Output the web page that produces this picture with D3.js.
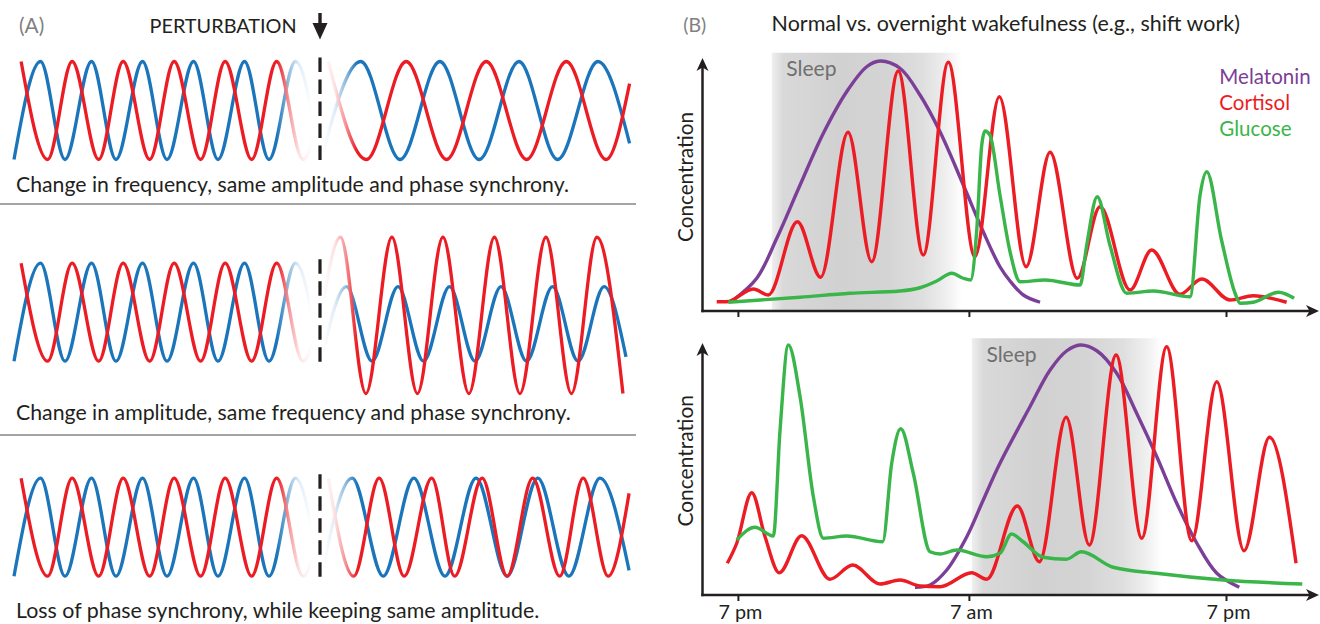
<!DOCTYPE html>
<html><head><meta charset="utf-8">
<script src="https://cdn.jsdelivr.net/npm/d3@7"></script>
<style>body{margin:0;background:#fff}svg{display:block}text{font-family:Lato,"Open Sans",sans-serif}</style>
</head><body>
<svg id="chart" width="1320" height="624"></svg>
<script>
// ---------------- Panel A: extrema of the oscillations, [time in baseline cycles, level] ----------------
const blueLeft  = [[0,-1],[0.52,1],[1,-1],[1.52,1],[2,-1],[2.52,1],[3,-1],[3.52,1],[4,-1],[4.52,1],[5,-1],[5.52,1],[6,-1]];
const redLeft   = [[0.14,1],[0.66,-1],[1.14,1],[1.66,-1],[2.14,1],[2.66,-1],[3.14,1],[3.66,-1],[4.14,1],[4.66,-1],[5.15,1],[5.67,-1],[6.15,1]];
const blueFreq  = [[6.02,-1],[6.80,1],[7.57,-1],[8.35,1],[9.12,-1],[9.90,1],[10.66,-1],[11.45,1],[12.07,-0.67]];
const redFreq   = [[6.16,1],[6.91,-1],[7.69,1],[8.48,-1],[9.26,1],[10.05,-1],[10.83,1],[11.61,-1],[12.07,0.55]];
const blueAmp   = [[6.02,-1],[6.52,0.52],[7.02,-1],[7.53,0.52],[8.03,-1],[8.54,0.52],[9.04,-1],[9.55,0.52],[10.05,-1],[10.56,0.52],[11.06,-1],[11.57,0.52],[12.0,-0.91]];
const redAmp    = [[6.0,-0.2],[6.40,1.53],[6.90,-1.66],[7.41,1.53],[7.91,-1.66],[8.41,1.53],[8.92,-1.66],[9.42,1.53],[9.92,-1.66],[10.43,1.53],[10.93,-1.66],[11.43,1.53],[11.94,-1.66]];
const bluePhase = [[6.02,-1],[6.63,1],[7.24,-1],[7.84,1],[8.45,-1],[9.06,1],[9.67,-1],[10.27,1],[10.88,-1],[11.49,1],[12.06,-0.88]];
const redPhase  = [[6.16,1],[6.66,-1],[7.16,1],[7.65,-1],[8.19,1],[8.64,-1],[9.18,1],[9.67,-1],[10.17,1],[10.70,-1],[11.16,1],[11.65,-1],[12.06,0.69]];
const perturbationTime = 6.0;
const rowCaptions = [
  "Change in frequency, same amplitude and phase synchrony.",
  "Change in amplitude, same frequency and phase synchrony.",
  "Loss of phase synchrony, while keeping same amplitude."
];

// ---------------- Panel B: [hours after 7 pm, concentration 0-100] ----------------
const tickHours  = [0, 12, 24];
const tickLabels = ["7 pm", "7 am", "7 pm"];
const seriesNames = ["Melatonin", "Cortisol", "Glucose"];
const normalSleep = [1.76, 11.63];
const shiftSleep  = [12.14, 21.0];
const normalMelatonin = [[-0.24,4.4],[0.98,13.1],[2.02,29.1],[3.23,50.4],[4.44,71.1],[5.65,87.7],[6.69,97.7],[7.38,100],[8.42,97.1],[9.46,86.4],[10.5,71.7],[11.71,50.4],[12.67,31.7],[13.45,17.7],[13.92,12.0],[14.54,6.4],[15.32,3.5]];
const normalCortisol = [[-1.10,3.7],[-0.58,3.7],[0.80,8.8],[1.58,6.4],[3.09,35.7],[4.30,13.5],[5.72,71.5],[6.95,19.7],[8.33,96.0],[9.63,22.4],[10.93,99.5],[12.28,21.7],[13.42,85.7],[14.67,17.7],[15.79,63.5],[17.06,13.1],[18.12,41.7],[19.52,8.4],[20.53,24.4],[21.85,6.7],[22.87,12.8],[24.19,4.4],[25.27,6.1],[26.83,3.5]];
const normalGlucose = [[-0.50,3.5],[3.23,5.5],[5.82,7.1],[8.42,8.0],[9.46,9.3],[10.33,12.0],[11.11,15.1],[11.71,13.1],[12.08,12.4],[12.36,31.7],[12.60,66.4],[12.75,72.0],[12.98,70.4],[13.45,46.4],[13.92,23.7],[14.39,11.7],[15.56,12.4],[17.19,10.4],[17.50,26.4],[17.99,45.7],[18.58,26.4],[19.37,7.1],[20.61,8.0],[22.32,5.7],[22.79,46.4],[23.10,55.7],[23.79,28.4],[24.42,7.2],[24.66,3.1],[25.28,3.5],[26.45,7.5],[27.18,5.1]];
const shiftMelatonin = [[9.20,3.1],[9.98,4.0],[10.85,10.0],[11.89,23.3],[12.67,38.0],[13.45,52.7],[14.85,75.3],[15.79,90.0],[16.57,97.7],[17.19,100],[17.97,97.7],[18.90,88.7],[19.83,72.7],[20.77,55.3],[21.70,36.7],[22.64,20.7],[23.57,8.7],[24.62,3.1]];
const shiftCortisol = [[-0.55,12.7],[-0.06,20.7],[0.72,40.9],[1.41,23.3],[2.15,8.9],[3.31,23.7],[4.78,6.3],[5.96,12.0],[7.38,4.4],[8.42,6.0],[9.46,3.6],[10.50,3.3],[12.13,8.9],[12.83,6.3],[14.26,35.6],[15.29,13.3],[16.54,71.1],[17.62,20.0],[18.87,96.0],[20.07,22.7],[21.23,99.3],[22.40,21.7],[23.57,85.3],[24.84,17.7],[26.03,63.1],[27.27,12.7]];
const shiftGlucose = [[-0.06,22.0],[0.89,27.1],[1.84,23.6],[2.19,66.0],[2.62,100.0],[3.23,79.3],[3.92,39.3],[4.44,22.7],[5.65,23.6],[7.52,21.3],[7.99,52.7],[8.46,66.5],[9.11,48.7],[9.98,17.3],[10.50,16.4],[11.37,18.0],[12.83,15.3],[13.45,16.7],[13.99,24.4],[14.53,21.3],[15.46,15.1],[16.55,14.3],[17.25,17.3],[18.73,11.1],[20.75,8.7],[23.86,6.0],[27.56,4.4]];

// ---------------- styling ----------------
const RED = "#ec1c24", BLUE = "#1b75bb", PURPLE = "#7b3f98", GREEN = "#3ab54a", INK = "#231f20";
const seriesColors = [PURPLE, RED, GREEN];

const svg = d3.select("#chart");
const defs = svg.append("defs");

function fitText(sel, width) {
  const cur = sel.node().getComputedTextLength();
  const fs = parseFloat(sel.attr("font-size"));
  sel.attr("font-size", (fs * width / cur).toFixed(2));
  return +(fs * width / cur).toFixed(2);
}
function addText(parent, x, y, s, color, width, size) {
  const t = parent.append("text").attr("x", x).attr("y", y).attr("fill", color).attr("font-size", size || 20).text(s);
  if (width) fitText(t, width);
  return t;
}
function grad(id, x1, x2, stops) {
  const g = defs.append("linearGradient").attr("id", id).attr("gradientUnits", "userSpaceOnUse")
    .attr("x1", x1).attr("x2", x2).attr("y1", 0).attr("y2", 0);
  stops.forEach(s => g.append("stop").attr("offset", s[0]).attr("stop-color", s[1]));
}

// ================= PANEL A =================
const xA = d3.scaleLinear().domain([0, 12]).range([14, 626]);
const px = xA(perturbationTime);
grad("fadeOutG", px - 43, px - 8, [[0,"#fff"],[0.33,"#7a7a7a"],[0.62,"#222"],[1,"#000"]]);
grad("fadeInG", px + 3, px + 37, [[0,"#000"],[0.35,"#222"],[0.66,"#7a7a7a"],[1,"#fff"]]);
["fadeOut","fadeIn"].forEach(id => {
  defs.append("mask").attr("id", id).attr("maskUnits","userSpaceOnUse").attr("x",0).attr("y",0).attr("width",660).attr("height",624)
    .append("rect").attr("width",660).attr("height",624).attr("fill",`url(#${id}G)`);
});

const rows = [
  {center: 110.5, right: [blueFreq, redFreq], caption: 191.7, cw: 553},
  {center: 312.2, right: [blueAmp, redAmp], caption: 420.3, cw: 555},
  {center: 527.2, right: [bluePhase, redPhase], caption: 618.3, cw: 523.7}
];
const gA = svg.append("g");
rows.forEach((r, i) => {
  const y = d3.scaleLinear().domain([-1, 1]).range([r.center + 49, r.center - 49]);
  const line = d3.line().x(d => xA(d[0])).y(d => y(d[1])).curve(d3.curveMonotoneX);
  const left = gA.append("g").attr("mask", "url(#fadeOut)");
  left.append("path").attr("d", line(blueLeft)).attr("fill","none").attr("stroke",BLUE).attr("stroke-width",3.3);
  left.append("path").attr("d", line(redLeft)).attr("fill","none").attr("stroke",RED).attr("stroke-width",3.3);
  const right = gA.append("g").attr("mask", "url(#fadeIn)");
  right.append("path").attr("d", line(r.right[0])).attr("fill","none").attr("stroke",BLUE).attr("stroke-width",3.3);
  right.append("path").attr("d", line(r.right[1])).attr("fill","none").attr("stroke",RED).attr("stroke-width",3.3);
  gA.append("line").attr("x1", px).attr("x2", px).attr("y1", r.center - 53).attr("y2", r.center + 56)
    .attr("stroke", INK).attr("stroke-width", 3.2).attr("stroke-dasharray", "14.5,7.5");
  addText(gA, 16, r.caption, rowCaptions[i], INK, r.cw, 20);
});
[204, 435].forEach(yy => gA.append("line").attr("x1", 0).attr("x2", 636).attr("y1", yy).attr("y2", yy)
  .attr("stroke", "#4a4a4a").attr("stroke-width", 1.2));
addText(gA, 19, 33.3, "(A)", "#808080", 25.2, 20);
addText(gA, 149.5, 33.3, "PERTURBATION", INK, 147.3, 18);
// perturbation arrow
gA.append("line").attr("x1", px).attr("x2", px).attr("y1", 13).attr("y2", 27).attr("stroke", INK).attr("stroke-width", 3.4);
gA.append("path").attr("d", `M${px-7.5},23 L${px+7.5},23 L${px},39.5 Z`).attr("fill", INK);

// ================= PANEL B =================
const xB = d3.scaleLinear().domain(tickHours).range([737.9, 968.9, 1226]);
const sg = defs.append("linearGradient").attr("id", "sleepG");
[[0,"#efefef"],[0.06,"#d9d9d9"],[0.35,"#d1d1d1"],[0.6,"#d4d4d4"],[0.8,"#dfdfdf"],[0.93,"#f1f1f1"],[1,"#fff"]]
  .forEach(s => sg.append("stop").attr("offset", s[0]).attr("stop-color", s[1]));
defs.append("marker").attr("id","arrowHead").attr("viewBox","-14 -7 14 14").attr("refX",-8).attr("refY",0)
  .attr("markerWidth",14).attr("markerHeight",14).attr("markerUnits","userSpaceOnUse").attr("orient","auto")
  .append("path").attr("d","M0,0 L-13,-6 L-9.5,0 L-13,6 Z").attr("fill",INK);

const gB = svg.append("g");
addText(gB, 683.2, 32, "(B)", "#808080", 23, 20);
addText(gB, 771.6, 30.7, "Normal vs. overnight wakefulness (e.g., shift work)", INK, 468.6, 18);

const charts = [
  {base: 311, tip: 58, sleep: normalSleep, series: [normalMelatonin, normalCortisol, normalGlucose], labels: false, sleepTop: 103.3, labelY: 177, lw: 130},
  {base: 595, tip: 343, sleep: shiftSleep, series: [shiftMelatonin, shiftCortisol, shiftGlucose], labels: true, sleepTop: 102.7, labelY: 460.8, lw: 131.7}
];
let tickFont = null;
charts.forEach(c => {
  const y = d3.scaleLinear().domain([0, 100]).range([c.base, c.base - 250]);
  const g = gB.append("g");
  const sx0 = xB(c.sleep[0]), sx1 = xB(c.sleep[1]);
  g.append("rect").attr("x", sx0).attr("y", y(c.sleepTop)).attr("width", sx1 - sx0).attr("height", y(0) - y(c.sleepTop))
    .attr("fill", "url(#sleepG)");
  addText(g, sx0 + 14.5, y(c.sleepTop) + 23.5, "Sleep", "#707070", 50.3, 20);
  const line = d3.line().x(d => xB(d[0])).y(d => y(d[1]));
  c.series.forEach((s, i) => {
    g.append("path").attr("d", line.curve(i === 0 ? d3.curveCatmullRom.alpha(0.5) : d3.curveMonotoneX)(s))
      .attr("fill", "none").attr("stroke", seriesColors[i]).attr("stroke-width", 3.4).attr("stroke-linejoin","round");
  });
  // axes
  const axis = d3.axisBottom(xB).tickValues(tickHours).tickSize(6).tickFormat((d, i) => c.labels ? tickLabels[i] : "");
  const ax = g.append("g").attr("transform", `translate(0,${c.base})`).call(axis);
  ax.select(".domain").remove();
  ax.selectAll(".tick line").attr("stroke", INK).attr("stroke-width", 2);
  ax.selectAll(".tick text").attr("y", 24).attr("dy", null).attr("fill", INK).attr("font-family", "Lato").attr("font-size", 20);
  if (c.labels) {
    const t0 = ax.select(".tick text");
    tickFont = fitText(t0, 44);
    ax.selectAll(".tick text").attr("font-size", tickFont).attr("dx", 2);
  }
  g.append("line").attr("x1", 702.5).attr("x2", 702.5).attr("y1", c.base + 1.2).attr("y2", c.tip + 8)
    .attr("stroke", INK).attr("stroke-width", 2.5).attr("marker-end", "url(#arrowHead)");
  g.append("line").attr("x1", 701.3).attr("x2", 1311).attr("y1", c.base).attr("y2", c.base)
    .attr("stroke", INK).attr("stroke-width", 2.5).attr("marker-end", "url(#arrowHead)");
  const lab = g.append("text").attr("transform", `translate(692.6,${c.labelY}) rotate(-90)`).attr("text-anchor", "middle")
    .attr("fill", INK).attr("font-size", 20).text("Concentration");
  fitText(lab, c.lw);
});

// legend
const legY = [84, 110, 135.7];
let legFont = null;
seriesNames.forEach((n, i) => {
  const t = addText(gB, 1219.3, legY[i], n, seriesColors[i], i === 0 ? 91.4 : null, legFont || 20);
  if (i === 0) legFont = +t.attr("font-size");
});
</script>
</body></html>
